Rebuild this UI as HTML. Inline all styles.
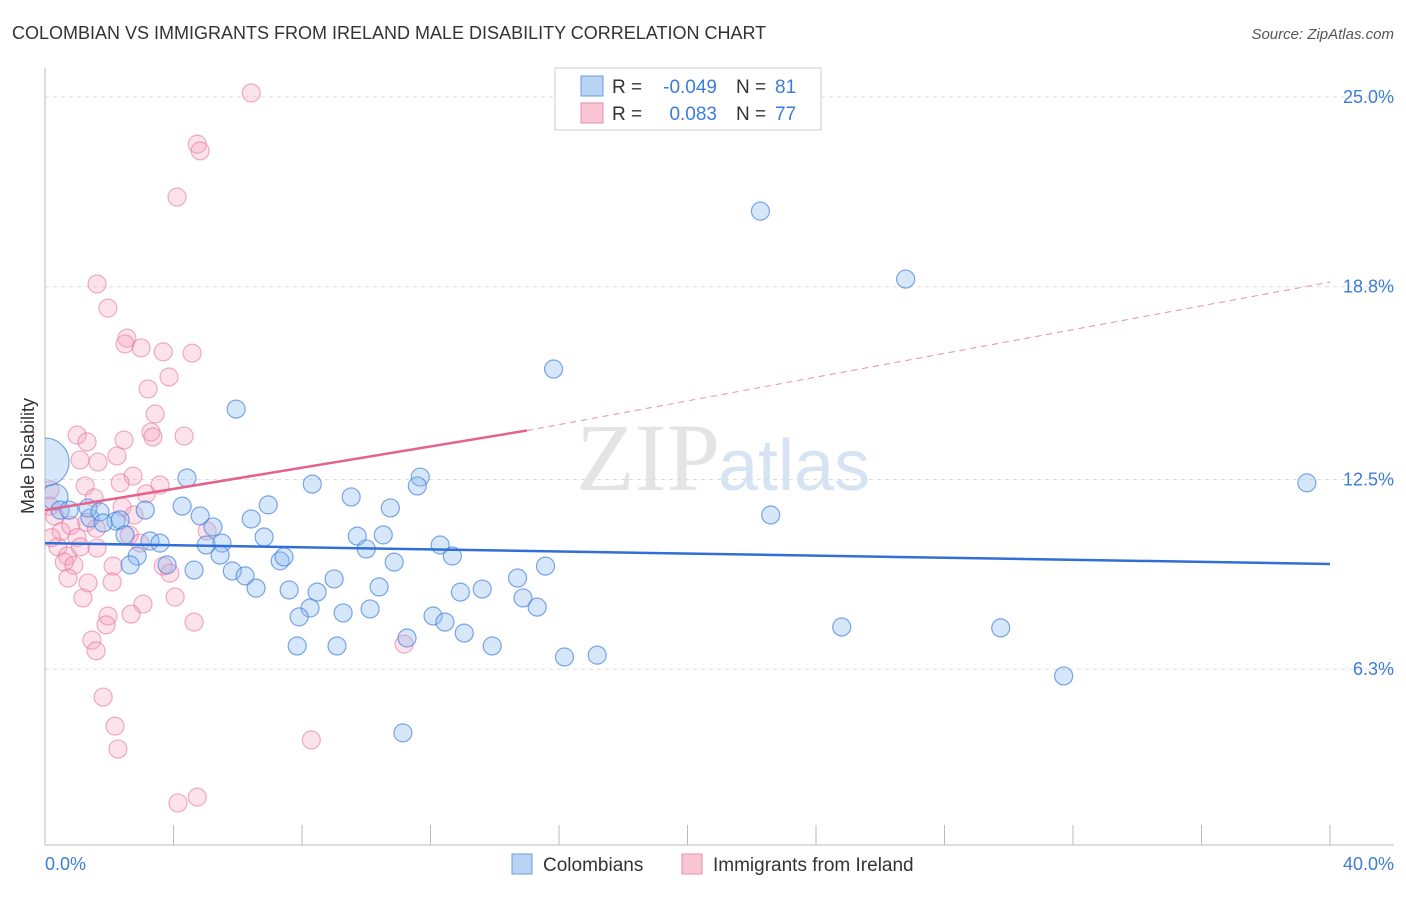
<!DOCTYPE html>
<html><head><meta charset="utf-8"><style>
body{margin:0;background:#fff;font-family:"Liberation Sans",sans-serif}
</style></head><body>
<svg id="c" width="1406" height="892" xmlns="http://www.w3.org/2000/svg" style="font-family:'Liberation Sans',sans-serif">
<defs><clipPath id="plot"><rect x="45" y="60" width="1360" height="785"/></clipPath></defs>
<text x="12" y="39" font-size="18" fill="#333">COLOMBIAN VS IMMIGRANTS FROM IRELAND MALE DISABILITY CORRELATION CHART</text>
<text x="1394" y="39" font-size="15" fill="#555" text-anchor="end" font-style="italic">Source: ZipAtlas.com</text>
<text x="720" y="490" font-size="96" fill="#e4e4e4" text-anchor="end" font-family="Liberation Serif">ZIP</text>
<text x="718" y="490" font-size="72" fill="#d6e3f3">atlas</text>
<g id="grid"></g>
<line x1="45" y1="68" x2="45" y2="845" stroke="#bbb"/>
<line x1="45" y1="845" x2="1394" y2="845" stroke="#bbb"/>
<g id="ticks"></g>
<g id="pts" clip-path="url(#plot)"></g>
<g id="lines"></g>
<text transform="translate(34,456) rotate(-90)" font-size="18" fill="#333" text-anchor="middle">Male Disability</text>
<text x="45" y="870" font-size="18" fill="#3b7dd8">0.0%</text>
<text x="1394" y="870" font-size="18" fill="#3b7dd8" text-anchor="end">40.0%</text>
<g>
<rect x="555" y="68" width="266" height="62" fill="#fff" stroke="#ccc"/>
<rect x="581" y="76" width="22" height="20" fill="#b8d3f5" stroke="#6a9ce0"/>
<rect x="581" y="103" width="22" height="20" fill="#f9c6d6" stroke="#e98cab"/>
<text x="612" y="93" font-size="19" fill="#333">R =</text>
<text x="717" y="93" font-size="19" fill="#3b7dd8" text-anchor="end">-0.049</text>
<text x="736" y="93" font-size="19" fill="#333">N =</text>
<text x="775" y="93" font-size="19" fill="#3b7dd8">81</text>
<text x="612" y="120" font-size="19" fill="#333">R =</text>
<text x="717" y="120" font-size="19" fill="#3b7dd8" text-anchor="end">0.083</text>
<text x="736" y="120" font-size="19" fill="#333">N =</text>
<text x="775" y="120" font-size="19" fill="#3b7dd8">77</text>
</g>
<g>
<rect x="512" y="854" width="20" height="20" fill="#b8d3f5" stroke="#6a9ce0"/>
<text x="543" y="871" font-size="19" fill="#333">Colombians</text>
<rect x="682" y="854" width="20" height="20" fill="#f9c6d6" stroke="#e98cab"/>
<text x="713" y="871" font-size="19" fill="#333">Immigrants from Ireland</text>
</g>
</svg>
<script>
const yTicks=[25.0,18.8,12.5,6.3];
const yTickLabels=["25.0%","18.8%","12.5%","6.3%"];
const xTicks=[4,8,12,16,20,24,28,32,36,40];
const blueX=[22.27,26.79,15.83,5.95,39.28,22.59,24.8,29.75,31.71,4.42,8.32,11.68,11.59,9.53,6.95,4.27,4.83,6.42,10.75,5.23,6.82,9.72,10.53,12.3,12.68,10.0,5.02,5.51,5.45,7.32,7.44,10.87,15.58,14.71,9.0,10.4,5.83,6.23,6.57,4.64,7.6,8.47,12.93,13.61,14.88,15.32,8.25,7.91,9.28,10.12,12.08,12.45,13.05,11.27,7.85,9.09,13.92,16.17,17.19,11.14,0.31,0.47,1.4,1.34,1.71,2.21,1.81,2.34,2.49,3.27,3.58,2.87,2.65,3.8,3.12,0.75,0.0];
const blueY=[21.27,19.05,16.11,14.8,12.39,11.34,7.68,7.65,6.08,12.55,12.35,12.58,12.29,11.93,11.67,11.63,11.31,11.21,11.57,10.95,10.62,10.65,10.69,10.36,10.0,10.23,10.36,10.42,10.03,9.84,9.97,9.8,9.67,9.28,9.25,8.99,9.51,9.35,8.95,9.54,8.89,8.82,8.82,8.92,8.63,8.33,8.3,8.01,8.14,8.27,8.04,7.84,7.48,7.32,7.06,7.06,7.06,6.7,6.76,4.22,11.93,11.5,11.24,11.57,11.44,11.14,11.08,11.18,10.69,10.49,10.42,10.0,9.71,9.71,11.5,11.5,13.07];
const blueR=[9,9,9,9,9,9,9,9,9,9,9,9,9,9,9,9,9,9,9,9,9,9,9,9,9,9,9,9,9,9,9,9,9,9,9,9,9,9,9,9,9,9,9,9,9,9,9,9,9,9,9,9,9,9,9,9,9,9,9,9,13,9,9,9,9,9,9,9,9,9,9,9,9,9,9,9,24];
const pinkX=[6.42,4.74,4.83,4.11,1.62,1.96,2.55,2.49,2.99,3.68,4.58,3.86,3.21,3.43,3.3,3.36,4.33,1.0,1.31,2.46,1.09,1.65,2.24,2.74,1.25,2.34,3.58,3.15,1.53,2.4,2.77,0.16,0.16,0.3,0.5,0.8,1.0,0.4,0.7,1.1,0.2,0.6,0.9,1.3,1.6,2.62,2.96,1.62,0.72,2.12,3.68,3.89,1.34,2.09,1.18,3.05,2.68,4.05,1.96,1.9,4.64,1.46,1.59,5.05,11.18,1.81,2.18,2.27,8.29,4.14,4.74];
const pinkY=[25.13,23.46,23.24,21.73,18.89,18.1,17.12,16.93,16.8,16.67,16.63,15.85,15.46,14.64,14.05,13.89,13.92,13.95,13.73,13.79,13.14,13.07,13.27,12.61,12.29,12.39,12.32,12.03,11.9,11.6,11.34,12.16,11.63,11.3,10.8,11.0,10.6,10.3,10.0,10.3,10.6,9.8,9.7,11.1,10.9,10.69,10.42,10.26,9.28,9.67,9.67,9.44,9.12,9.15,8.63,8.43,8.1,8.66,8.04,7.75,7.84,7.25,6.9,10.82,7.12,5.39,4.44,3.69,3.99,1.93,2.12];
const blueLine=[[0,10.42],[40,9.74]];
const pinkLine=[[0,11.5],[15,14.1],[40,18.95]];
const NS="http://www.w3.org/2000/svg";
const xs=v=>45+v*32.125, ys=v=>97+(25-v)*30.6;
function mk(t,a,p){const e=document.createElementNS(NS,t);for(const k in a)e.setAttribute(k,a[k]);document.getElementById(p).appendChild(e);return e;}
yTicks.forEach((v,i)=>{const l=mk('line',{x1:45,x2:1394,y1:ys(v),y2:ys(v),stroke:'#ddd','stroke-dasharray':'4,4'},'grid');


const t=mk('text',{x:1394,y:ys(v)+6,'font-size':18,fill:'#3b7dd8','text-anchor':'end'},'grid');t.textContent=yTickLabels[i];

});
xTicks.forEach(v=>{const l=mk('line',{x1:xs(v),x2:xs(v),y1:825,y2:845,stroke:'#bbb'},'ticks');

});
pinkX.forEach((x,i)=>{const c=mk('circle',{cx:xs(x),cy:ys(pinkY[i]),r:9,fill:'rgba(245,160,190,0.3)',stroke:'rgba(230,120,160,0.6)','stroke-width':1.2},'pts');

});
blueX.forEach((x,i)=>{const c=mk('circle',{cx:xs(x),cy:ys(blueY[i]),r:blueR[i],fill:'rgba(140,185,240,0.35)',stroke:'rgba(70,130,220,0.7)','stroke-width':1.2},'pts');

});
const bl=mk('line',{x1:xs(blueLine[0][0]),y1:ys(blueLine[0][1]),x2:xs(blueLine[1][0]),y2:ys(blueLine[1][1]),stroke:'#2f6fd6','stroke-width':2.5},'lines');


const ps=mk('line',{x1:xs(pinkLine[0][0]),y1:ys(pinkLine[0][1]),x2:xs(pinkLine[1][0]),y2:ys(pinkLine[1][1]),stroke:'#e4628e','stroke-width':2.5},'lines');


const pd=mk('line',{x1:xs(pinkLine[1][0]),y1:ys(pinkLine[1][1]),x2:xs(pinkLine[2][0]),y2:ys(pinkLine[2][1]),stroke:'#e98cab','stroke-width':1,'stroke-dasharray':'6,5'},'lines');


</script>
</body></html>
